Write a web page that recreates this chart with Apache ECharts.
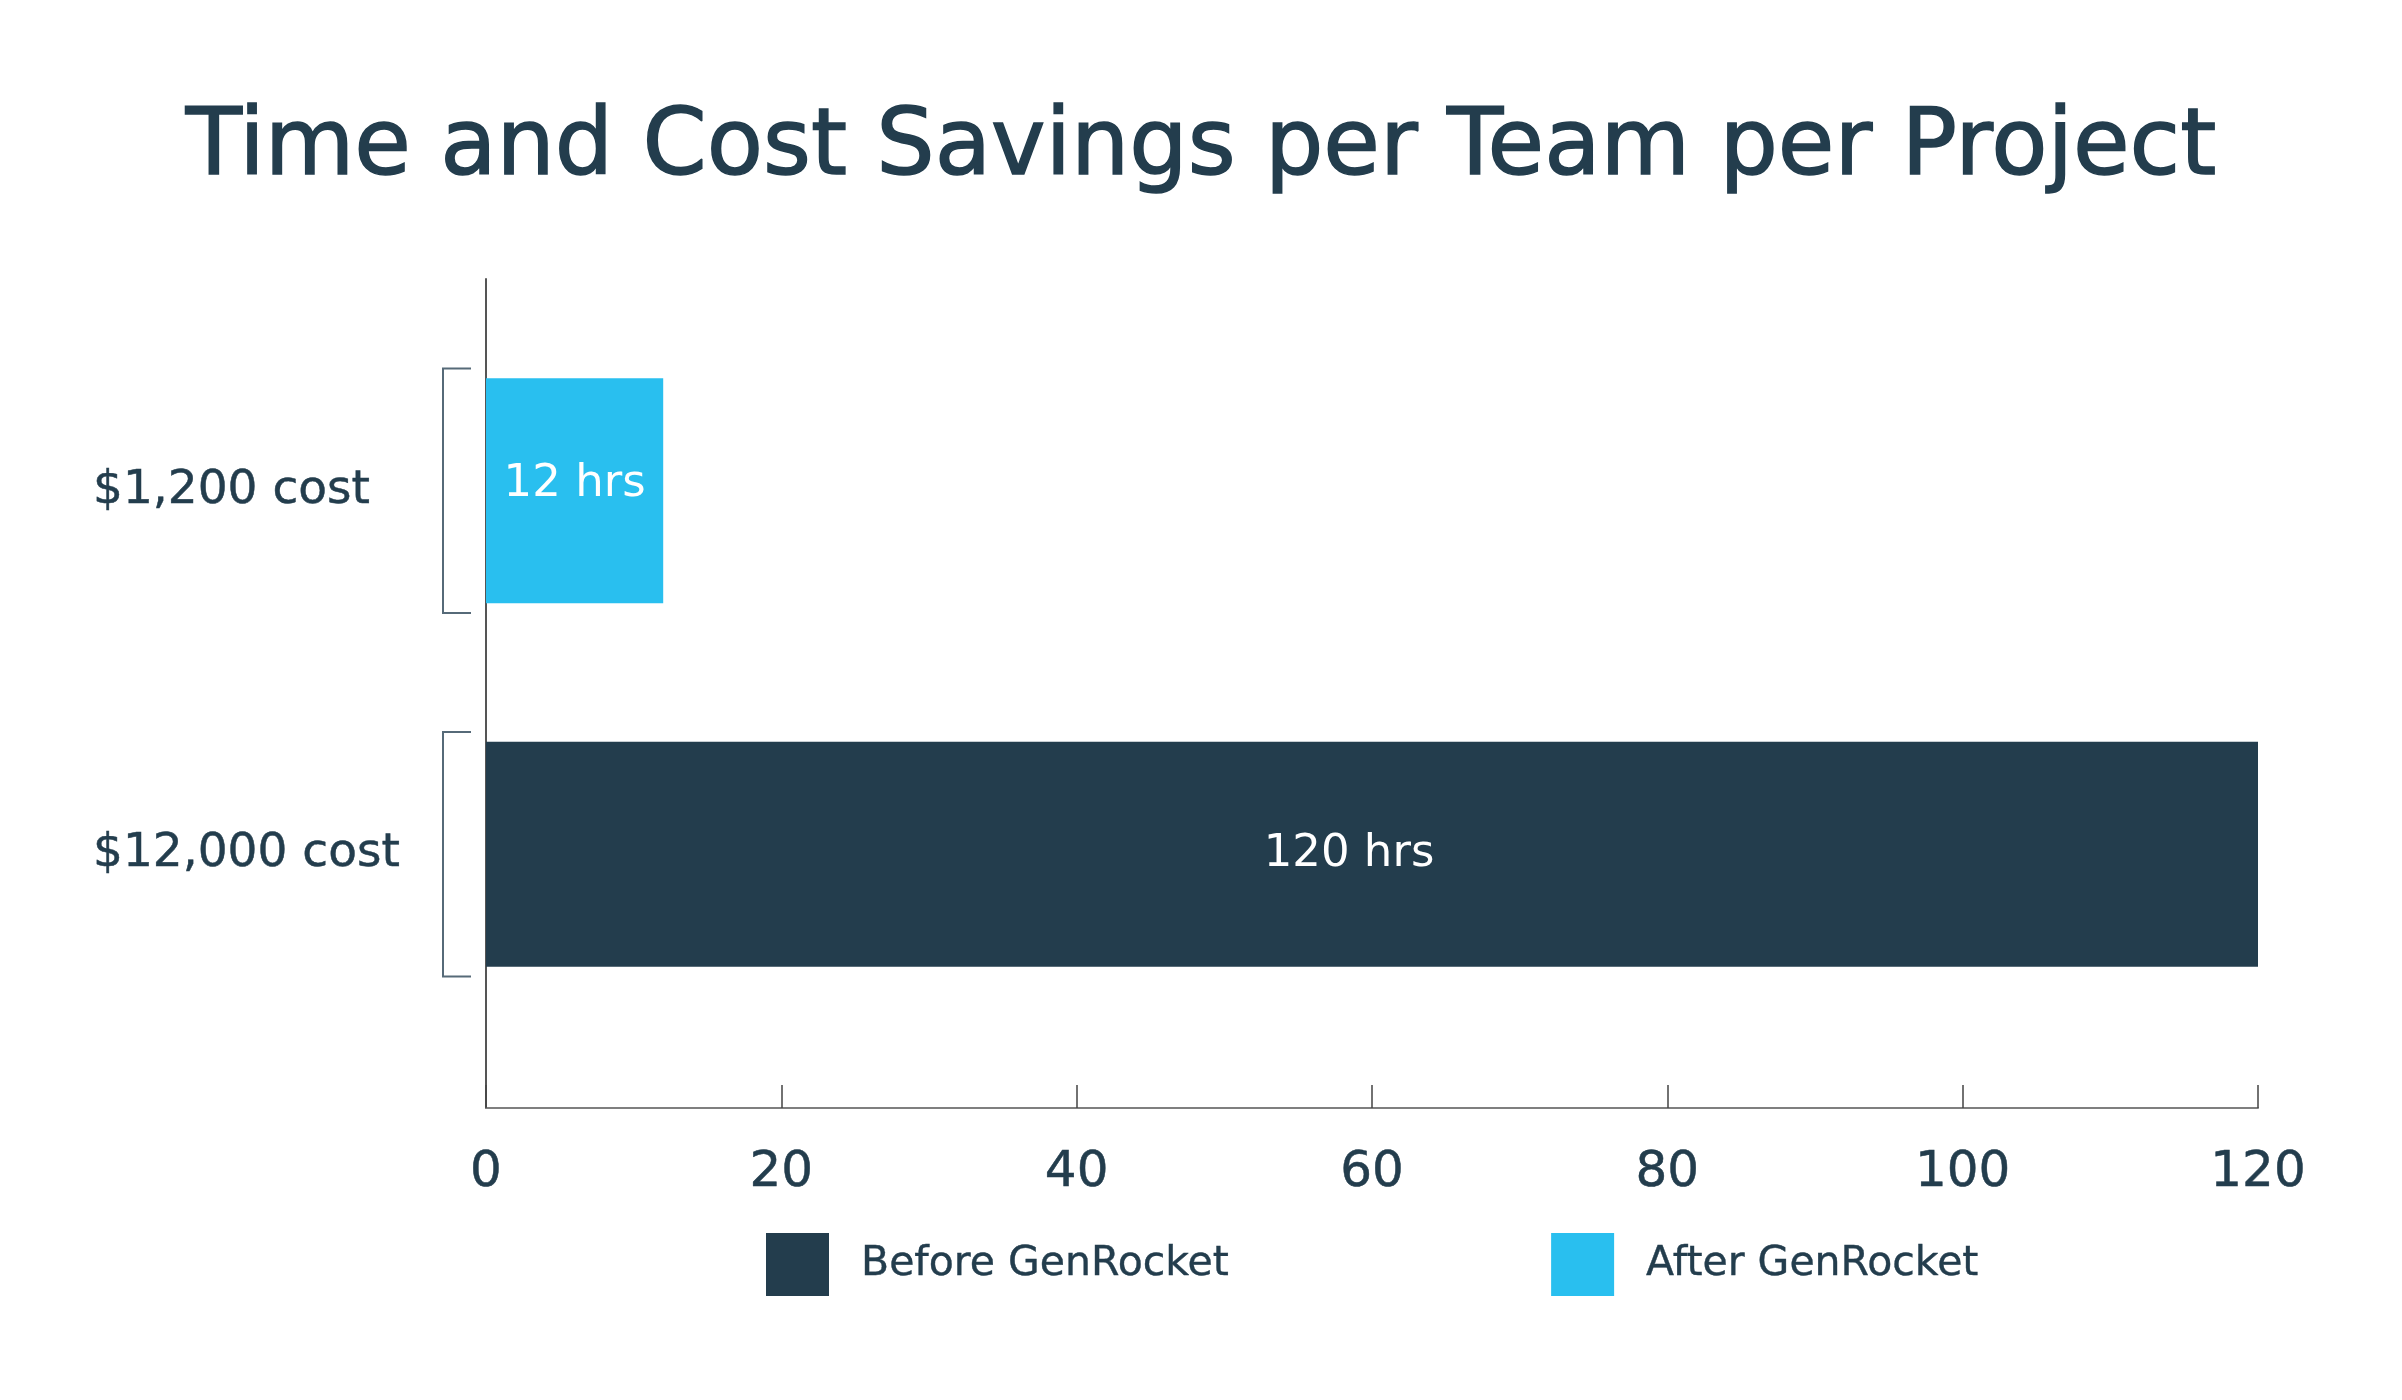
<!DOCTYPE html>
<html>
<head>
<meta charset="utf-8">
<script src="https://cdn.jsdelivr.net/npm/echarts@6/dist/echarts.min.js"></script>
<style>
html,body{margin:0;padding:0;background:#fff;}
#chart{width:2402px;height:1400px;}
</style>
</head>
<body>
<div id="chart"></div>
<script>
const titleText = 'Time and Cost Savings per Team per Project';
const categories = ['$12,000 cost', '$1,200 cost'];
const seriesNames = ['Before GenRocket', 'After GenRocket'];
const beforeHours = [120, '-'];
const afterHours = ['-', 12];
const xTicks = [0, 20, 40, 60, 80, 100, 120];

const DARK = '#233d4d';
const BLUE = '#29bfef';
const FONT = 'DejaVu Sans';

const chart = echarts.init(document.getElementById('chart'), null, {renderer: 'canvas'});

const option = {
  backgroundColor: '#ffffff',
  animation: false,
  textStyle: {fontFamily: FONT, color: DARK},
  title: {
    text: titleText,
    left: 'center',
    top: 104,
    padding: 0,
    textStyle: {fontFamily: FONT, fontSize: 92, fontWeight: 'normal', color: DARK,
                textBorderColor: DARK, textBorderWidth: 1.5}
  },
  legend: {
    data: seriesNames,
    left: 766,
    top: 1233,
    padding: 0,
    icon: 'rect',
    itemWidth: 63,
    itemHeight: 63,
    itemGap: 322,
    textStyle: {fontFamily: FONT, fontSize: 41, color: DARK, padding: [14, 0, 0, 27],
                textBorderColor: DARK, textBorderWidth: 0.4}
  },
  grid: [
    {left: 486, right: 144, top: 279, bottom: 292, containLabel: false},
    {left: 486, right: 144, top: 309, bottom: 364, containLabel: false}
  ],
  xAxis: [
    {
      gridIndex: 0, type: 'value',
      min: xTicks[0], max: xTicks[xTicks.length - 1], interval: xTicks[1] - xTicks[0],
      axisLine: {show: true, lineStyle: {color: '#7f7f7f', width: 2}},
      axisTick: {show: true, inside: true, length: 23, lineStyle: {color: '#444', width: 1.5}},
      axisLabel: {fontFamily: FONT, fontSize: 50, color: DARK, margin: 40,
                  textBorderColor: DARK, textBorderWidth: 0.5},
      splitLine: {show: false}
    },
    {
      gridIndex: 1, type: 'value',
      min: xTicks[0], max: xTicks[xTicks.length - 1],
      show: false
    }
  ],
  yAxis: [
    {
      gridIndex: 0, type: 'value',
      axisLine: {show: true, lineStyle: {color: '#555', width: 2}},
      axisTick: {show: false},
      axisLabel: {show: false},
      splitLine: {show: false}
    },
    {
      gridIndex: 1, type: 'category',
      data: categories,
      axisLine: {show: false},
      axisTick: {show: false},
      splitLine: {show: false},
      axisLabel: {align: 'left', margin: 393, fontFamily: FONT, fontSize: 47, color: DARK,
                  textBorderColor: DARK, textBorderWidth: 0.5}
    }
  ],
  series: [
    {
      name: seriesNames[0], type: 'bar', xAxisIndex: 1, yAxisIndex: 1,
      stack: 'hrs', barWidth: 225,
      itemStyle: {color: DARK},
      label: {show: true, position: 'inside', offset: [-23, 0], formatter: p => p.value + ' hrs',
              fontFamily: FONT, fontSize: 45, color: '#ffffff'},
      data: beforeHours
    },
    {
      name: seriesNames[1], type: 'bar', xAxisIndex: 1, yAxisIndex: 1,
      stack: 'hrs', barWidth: 225,
      itemStyle: {color: BLUE},
      label: {show: true, position: 'inside', offset: [0, -6], formatter: p => p.value + ' hrs',
              fontFamily: FONT, fontSize: 45, color: '#ffffff'},
      data: afterHours
    },
    {
      name: 'bracket', type: 'custom', xAxisIndex: 1, yAxisIndex: 1,
      clip: false, silent: true, z: 1,
      data: categories.map((c, i) => [0, i]),
      encode: {x: 0, y: 1},
      renderItem: function (params, api) {
        const p = api.coord([api.value(0), api.value(1)]);
        const band = api.size([0, 1])[1];
        const h = band * 0.336;
        const xv = p[0] - 43, xe = p[0] - 15;
        return {
          type: 'polyline',
          shape: {points: [[xe, p[1] - h], [xv, p[1] - h], [xv, p[1] + h], [xe, p[1] + h]]},
          style: {stroke: '#566a78', lineWidth: 2, fill: null}
        };
      }
    }
  ]
};
chart.setOption(option);
</script>
</body>
</html>
